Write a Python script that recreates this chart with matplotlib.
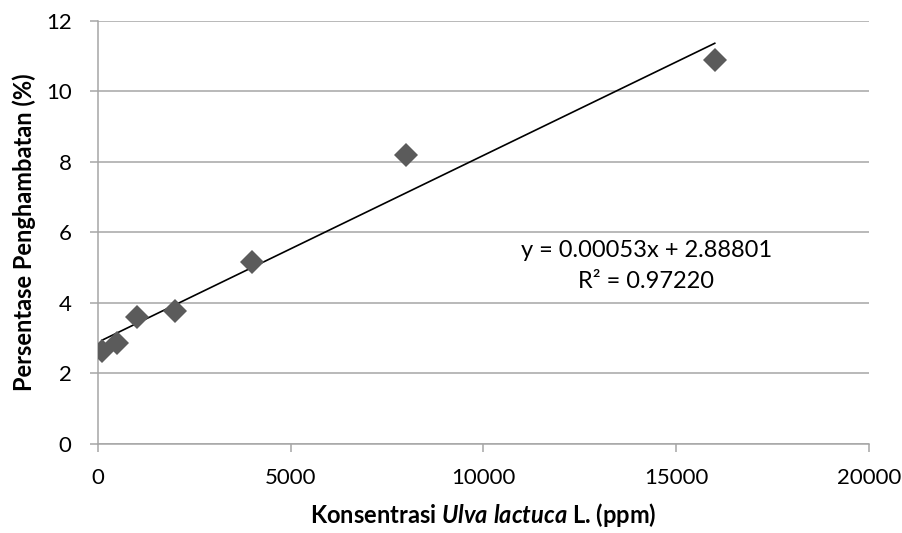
import numpy as np
import matplotlib.pyplot as plt

# data
konsentrasi = [100, 500, 1000, 2000, 4000, 8000, 16000]
hambatan = [2.63, 2.86, 3.59, 3.77, 5.16, 8.2, 10.9]

# trendline as printed on the chart
slope = 0.00053
intercept = 2.88801
r2 = 0.97220

plt.rcParams['font.family'] = ['Lato', 'DejaVu Sans']
plt.rcParams['mathtext.fontset'] = 'custom'
plt.rcParams['mathtext.rm'] = 'Lato'
plt.rcParams['mathtext.it'] = 'Lato:italic'
plt.rcParams['mathtext.bf'] = 'Lato:bold'
plt.rcParams['mathtext.bfit'] = 'Lato:italic:bold'

fig = plt.figure(figsize=(9.03, 5.33), dpi=100)
ax = fig.add_axes([0.1085, 0.167, 0.8538, 0.7936])

grid_col = '#a6a6a6'
ax.set_xlim(0, 20000)
ax.set_ylim(0, 12)
ax.set_xticks([0, 5000, 10000, 15000, 20000])
ax.set_yticks([0, 2, 4, 6, 8, 10, 12])
ax.yaxis.grid(True, color=grid_col, linewidth=1.1)
ax.set_axisbelow(True)

for s in ['top', 'right']:
    ax.spines[s].set_visible(False)
for s in ['left', 'bottom']:
    ax.spines[s].set_color(grid_col)
    ax.spines[s].set_linewidth(1.1)
ax.tick_params(axis='both', colors=grid_col, labelcolor='black', labelsize=16,
               length=6, width=1.1)
ax.tick_params(axis='y', pad=13)
ax.tick_params(axis='x', pad=11)

# trendline
xs = np.array([min(konsentrasi), max(konsentrasi)])
ax.plot(xs, slope * xs + intercept, color='black', linewidth=1.2, zorder=2)

ax.plot(konsentrasi, hambatan, linestyle='none', marker='D', markersize=12.5,
        color='#5b5b5b', markeredgewidth=0, zorder=3)

ax.text(14220, 5.48, 'y = 0.00053x + 2.88801', fontsize=17, ha='center', va='center')
ax.text(14220, 4.62, 'R² = %.5f' % r2, fontsize=17, ha='center', va='center')

ax.set_xlabel('Konsentrasi $\\mathbfit{Ulva\\ lactuca}$ L. (ppm)',
              fontsize=17, fontweight='bold', labelpad=10)
ax.set_ylabel('Persentase Penghambatan (%)', fontsize=17, fontweight='bold', labelpad=7)

plt.savefig('out.png', dpi=100)
